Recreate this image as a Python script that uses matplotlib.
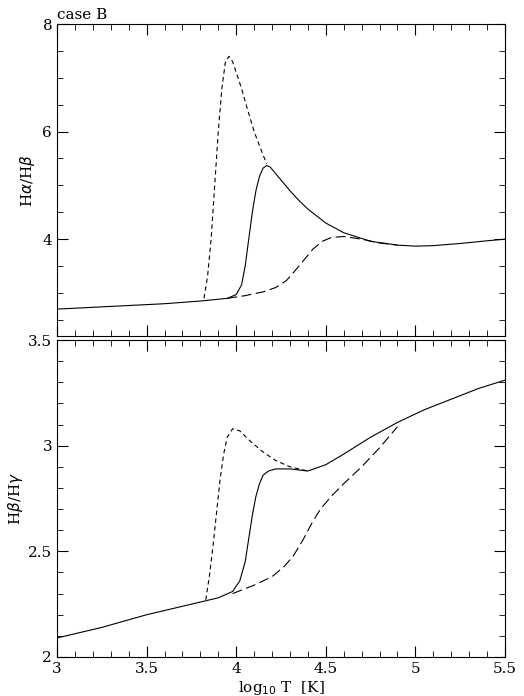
import matplotlib
matplotlib.use("Agg")
import matplotlib.pyplot as plt
from matplotlib.ticker import MultipleLocator

plt.rcParams['font.family'] = ['DejaVu Serif']

# ---- Ha/Hb (case B) -------------------------------------------------------
ab_solid_T = [3.0, 3.3, 3.6, 3.8, 3.95, 4.0, 4.03, 4.05, 4.07, 4.09, 4.11, 4.13, 4.15, 4.17, 4.19, 4.22, 4.25, 4.3, 4.35, 4.4, 4.5, 4.6, 4.75, 4.9, 5.0, 5.1, 5.25, 5.4, 5.5]
ab_solid   = [2.7, 2.75, 2.8, 2.85, 2.9, 2.97, 3.15, 3.5, 4.0, 4.5, 4.9, 5.17, 5.32, 5.37, 5.34, 5.22, 5.1, 4.9, 4.72, 4.56, 4.3, 4.12, 3.96, 3.89, 3.87, 3.88, 3.92, 3.97, 4.0]
ab_short_T = [3.82, 3.84, 3.86, 3.88, 3.9, 3.92, 3.94, 3.96, 3.98, 4.0, 4.03, 4.06, 4.1, 4.14, 4.17]
ab_short   = [2.9, 3.3, 4.0, 5.0, 6.0, 6.8, 7.3, 7.4, 7.3, 7.1, 6.8, 6.45, 6.0, 5.65, 5.4]
ab_long_T  = [3.95, 4.05, 4.15, 4.22, 4.28, 4.33, 4.38, 4.43, 4.48, 4.53, 4.6, 4.7, 4.8, 4.9]
ab_long    = [2.9, 2.95, 3.02, 3.1, 3.23, 3.42, 3.62, 3.82, 3.96, 4.03, 4.05, 4.0, 3.93, 3.89]

# ---- Hb/Hg ----------------------------------------------------------------
bg_solid_T = [3.0, 3.25, 3.5, 3.75, 3.9, 3.98, 4.02, 4.05, 4.07, 4.09, 4.11, 4.13, 4.15, 4.18, 4.22, 4.3, 4.4, 4.5, 4.6, 4.75, 4.9, 5.05, 5.2, 5.35, 5.5]
bg_solid   = [2.09, 2.14, 2.2, 2.25, 2.28, 2.31, 2.36, 2.45, 2.56, 2.67, 2.76, 2.82, 2.86, 2.88, 2.89, 2.89, 2.88, 2.91, 2.96, 3.04, 3.11, 3.17, 3.22, 3.27, 3.31]
bg_short_T = [3.83, 3.85, 3.87, 3.89, 3.91, 3.93, 3.95, 3.98, 4.02, 4.08, 4.15, 4.22, 4.3, 4.4]
bg_short   = [2.27, 2.38, 2.52, 2.68, 2.84, 2.96, 3.04, 3.08, 3.07, 3.02, 2.97, 2.93, 2.9, 2.88]
bg_long_T  = [3.98, 4.1, 4.2, 4.27, 4.32, 4.37, 4.42, 4.47, 4.53, 4.6, 4.7, 4.8, 4.9]
bg_long    = [2.3, 2.34, 2.38, 2.43, 2.48, 2.55, 2.63, 2.7, 2.76, 2.82, 2.9, 2.99, 3.09]

fig = plt.figure(figsize=(5.24, 6.96), dpi=100)
ax1 = fig.add_axes([57/524, 1-336/696, 448/524, 312/696])
ax2 = fig.add_axes([57/524, 1-657/696, 448/524, 317/696])

for ax, s, sh, lo in [(ax1, (ab_solid_T, ab_solid), (ab_short_T, ab_short), (ab_long_T, ab_long)),
                      (ax2, (bg_solid_T, bg_solid), (bg_short_T, bg_short), (bg_long_T, bg_long))]:
    ax.plot(*s, color='k', lw=0.8)
    ax.plot(*sh, color='k', lw=0.8, dashes=(4, 3))
    ax.plot(*lo, color='k', lw=0.8, dashes=(9, 4))
    ax.set_xlim(3, 5.5)
    ax.xaxis.set_major_locator(MultipleLocator(0.5))
    ax.xaxis.set_minor_locator(MultipleLocator(0.1))
    ax.tick_params(which='both', direction='in', top=True, right=True, labelsize=11)
    ax.tick_params(which='major', length=8)
    ax.tick_params(which='minor', length=4)

ax1.set_ylim(2.2, 8)
ax1.yaxis.set_major_locator(MultipleLocator(2))
ax1.yaxis.set_minor_locator(MultipleLocator(0.5))
ax1.set_xticklabels([])
ax1.set_ylabel(r'H$\alpha$/H$\beta$', fontsize=11, labelpad=4)
ax1.text(0.0, 1.005, 'case B', transform=ax1.transAxes, fontsize=11, va='bottom')

ax2.set_ylim(2, 3.5)
ax2.yaxis.set_minor_locator(MultipleLocator(0.1))
ax2.set_yticks([2, 2.5, 3, 3.5], ['2', '2.5', '3', '3.5'])
ax2.set_ylabel(r'H$\beta$/H$\gamma$', fontsize=11, labelpad=2)
ax2.set_xticks([3, 3.5, 4, 4.5, 5, 5.5], ['3', '3.5', '4', '4.5', '5', '5.5'])
ax2.set_xlabel(r'log$_{10}$ T  [K]', fontsize=11, labelpad=2)

fig.savefig('out.png', dpi=100)
